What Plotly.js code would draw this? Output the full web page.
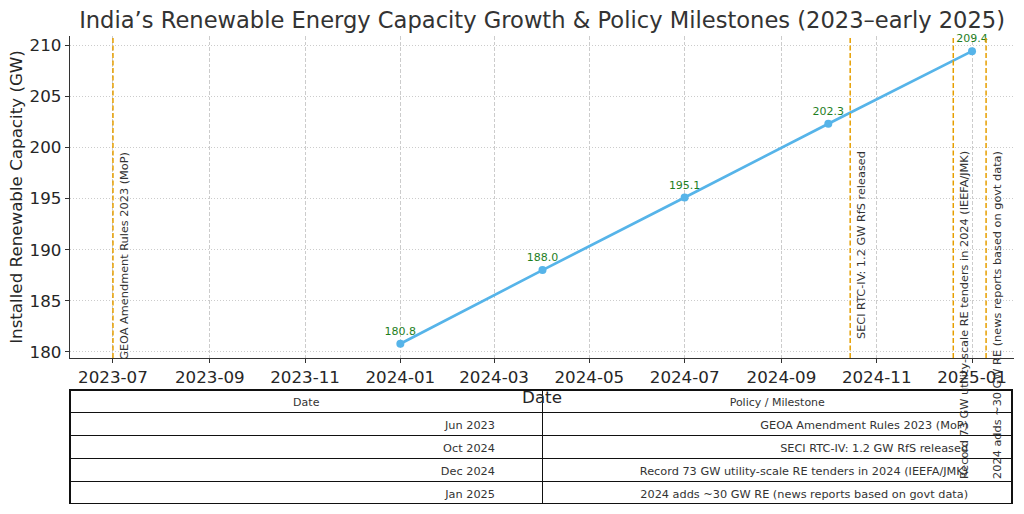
<!DOCTYPE html>
<html>
<head>
<meta charset="utf-8">
<script src="https://cdn.plot.ly/plotly-3.0.1.min.js"></script>
<style>html,body{margin:0;padding:0;background:#fff;}#chart{width:1024px;height:514px;}</style>
</head>
<body>
<div id="chart"></div>
<script>
// Capacity data (quarterly)
var capDates = ['2024-01-01', '2024-04-01', '2024-07-01', '2024-10-01', '2025-01-01'];
var capValues = [180.8, 188.0, 195.1, 202.3, 209.4];

// Policy milestones
var milestoneDates = ['2023-07-01', '2024-10-15', '2024-12-20', '2025-01-10'];
var milestoneTexts = [
  'GEOA Amendment Rules 2023 (MoP)',
  'SECI RTC-IV: 1.2 GW RfS released',
  'Record 73 GW utility-scale RE tenders in 2024 (IEEFA/JMK)',
  '2024 adds ~30 GW RE (news reports based on govt data)'
];
var milestoneLabels = ['Jun 2023', 'Oct 2024', 'Dec 2024', 'Jan 2025'];
var tableHeaders = ['Date', 'Policy / Milestone'];

var FONT = 'DejaVu Sans, Liberation Sans, sans-serif';
function padRight(n) { return function (s) { return s + '\u00a0'.repeat(n); }; }

var lineTrace = {
  type: 'scatter',
  mode: 'lines+markers+text',
  x: capDates,
  y: capValues,
  text: capValues.map(function (v) { return v.toFixed(1); }),
  textposition: 'top center',
  textfont: {family: FONT, size: 11, color: '#1f7f1f'},
  line: {color: '#56B4E9', width: 2.7},
  marker: {color: '#56B4E9', size: 8},
  cliponaxis: false,
  xaxis: 'x', yaxis: 'y'
};

var tableTrace = {
  type: 'table',
  domain: {x: [0, 0.9985], y: [0, 0.2452]},
  columnwidth: [473, 470],
  header: {
    values: tableHeaders,
    align: 'center',
    height: 22.8,
    fill: {color: '#ffffff'},
    line: {color: '#111', width: 1.2},
    font: {family: FONT, size: 11, color: '#333'}
  },
  cells: {
    values: [milestoneLabels.map(padRight(11)), milestoneTexts.map(padRight(10))],
    align: 'right',
    height: 22.8,
    fill: {color: '#ffffff'},
    line: {color: '#111', width: 1.2},
    font: {family: FONT, size: 11.3, color: '#333'}
  }
};

var shapes = milestoneDates.map(function (d) {
  return {
    type: 'line', xref: 'x', yref: 'y domain',
    x0: d, x1: d, y0: 0, y1: 1,
    line: {color: '#E69F00', width: 1.5, dash: '5px,2.5px'},
    layer: 'above'
  };
});

var annotations = milestoneDates.map(function (d, i) {
  return {
    x: d, xref: 'x', y: 200, yref: 'y',
    text: milestoneTexts[i],
    textangle: -90,
    xanchor: 'left', yanchor: 'top',
    xshift: 3, yshift: -2,
    showarrow: false,
    font: {family: FONT, size: 11.3, color: '#333'}
  };
});

var layout = {
  width: 1024, height: 514,
  margin: {l: 70, r: 10, t: 36, b: 9},
  paper_bgcolor: '#fff', plot_bgcolor: '#fff',
  showlegend: false,
  hovermode: false,
  font: {family: FONT, color: '#262626'},
  title: {
    text: 'India’s Renewable Energy Capacity Growth &amp; Policy Milestones (2023–early 2025)',
    font: {family: FONT, size: 22.6, color: '#333'},
    x: 0.5294, xanchor: 'center', xref: 'container',
    y: 0.961, yanchor: 'middle', yref: 'container'
  },
  xaxis: {
    type: 'date',
    domain: [0, 1],
    anchor: 'y',
    range: ['2023-06-03 12:00', '2025-01-27 21:00'],
    tick0: '2023-07-01', dtick: 'M2', tickformat: '%Y-%m',
    tickfont: {family: FONT, size: 16.7, color: '#262626'},
    ticks: 'outside', ticklen: 4, tickcolor: '#333', tickwidth: 1,
    showline: true, linecolor: '#333', linewidth: 1.2,
    showgrid: true, gridcolor: '#cccccc', griddash: '3.5px,2px', gridwidth: 1,
    zeroline: false,
    title: {text: 'Date', font: {family: FONT, size: 16.7, color: '#262626'}, standoff: 0}
  },
  yaxis: {
    domain: [0.3134, 1],
    anchor: 'x',
    range: [179.41, 210.88],
    tick0: 180, dtick: 5,
    tickfont: {family: FONT, size: 16.7, color: '#262626'},
    ticks: 'outside', ticklen: 4, tickcolor: '#333', tickwidth: 1,
    showline: true, linecolor: '#333', linewidth: 1.2,
    showgrid: true, gridcolor: '#cccccc', griddash: '1px,2px', gridwidth: 1,
    zeroline: false,
    title: {text: 'Installed Renewable Capacity (GW)', font: {family: FONT, size: 16.7, color: '#262626'}, standoff: 2}
  },
  shapes: shapes,
  annotations: annotations
};

Plotly.newPlot('chart', [lineTrace, tableTrace], layout, {displayModeBar: false, staticPlot: true});
</script>
</body>
</html>
